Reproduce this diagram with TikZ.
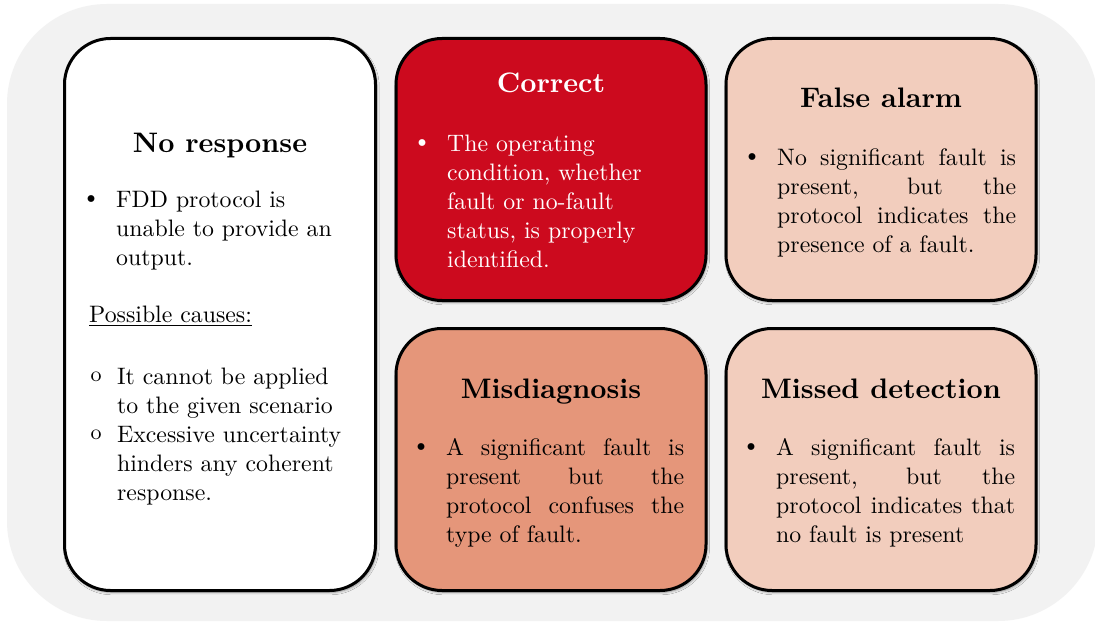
\documentclass[tikz,border=0pt]{standalone}
\usetikzlibrary{shadows.blur}

\definecolor{bgGray}{HTML}{F2F2F2}
\definecolor{okRed}{HTML}{CC0A1E}
\definecolor{midSalmon}{HTML}{E5967A}
\definecolor{paleSalmon}{HTML}{F2CDBD}

% text is set at 10pt design size and enlarged as a whole
\newcommand\bodyscale{2.38}
\newcommand\headscale{2.82}
% list markers, centred on the start of their box
\newcommand\dotbul{\makebox[0pt]{\raisebox{1pt}{\fontsize{10}{10}\selectfont\textbullet}}}
\newcommand\ringbul{\makebox[0pt]{\raisebox{1pt}{\fontsize{9}{9}\selectfont o}}}
% a fully justified line of the given width
\newcommand\jline[2]{\makebox[#1][s]{#2}}
% marker, then a hanging block of lines, all enlarged
\newcommand\entry[4]{\scalebox{\bodyscale}{\makebox[#1][l]{#2}\parbox[t]{#3}{#4}}}
\newcommand\plain[1]{\scalebox{\bodyscale}{#1}}
\newcommand\heading[1]{\scalebox{\headscale}{#1}}

\tikzset{
  card/.style={draw=black, line width=3pt, rounded corners=46pt,
    minimum width=310pt, minimum height=262pt, inner sep=0pt,
    blur shadow={shadow xshift=1.2pt, shadow yshift=-1.8pt,
      shadow blur radius=2.5pt, shadow opacity=45}},
  head/.style={anchor=base, inner sep=0pt, font=\fontsize{10}{12}\selectfont\bfseries},
  body/.style={anchor=base west, inner sep=0pt, font=\fontsize{10}{12.2}\selectfont},
}

\begin{document}
\begin{tikzpicture}[x=1pt, y=-1pt]
  \useasboundingbox (0,0) rectangle (1095,623);
  \fill[white] (0,0) rectangle (1095,623);
  \fill[bgGray, rounded corners=100pt] (7,4) rectangle (1098,621);

  % the five outcome cards
  \node[card, fill=white, minimum width=311pt, minimum height=552pt] (noresp) at (220,314.5) {};
  \node[card, fill=okRed] (correct) at (551,169.5) {};
  \node[card, fill=paleSalmon] (falsealarm) at (881,169.5) {};
  \node[card, fill=midSalmon] (misdiag) at (551,459.5) {};
  \node[card, fill=paleSalmon] (missed) at (881,459.5) {};

  % No response
  \node[head] (noresp-h) at (220,153) {\heading{No response}};
  \node[body] (noresp-a) at (91,207) {\entry{10.5pt}{\dotbul}{96pt}{%
    FDD protocol is\\ unable to provide an\\ output.}};
  \node[body] (noresp-c) at (89,322) {\plain{\underline{Possible causes:}}};
  \node[body] (noresp-d) at (96,384) {\entry{8.8pt}{\ringbul}{96pt}{%
    It cannot be applied\\ to the given scenario}};
  \node[body] (noresp-e) at (96,442) {\entry{8.8pt}{\ringbul}{96pt}{%
    Excessive uncertainty\\ hinders any coherent\\ response.}};

  % Correct
  \node[head, text=white] (correct-h) at (551,93) {\heading{Correct}};
  \node[body, text=white] (correct-a) at (422,151) {\entry{10.5pt}{\dotbul}{100pt}{%
    The operating\\ condition, whether\\ fault or no-fault\\ status, is properly\\ identified.}};

  % False alarm
  \node[head] (falsealarm-h) at (881,108) {\heading{False alarm}};
  \node[body] (falsealarm-a) at (752,165) {\entry{10.5pt}{\dotbul}{100.4pt}{%
    \jline{100.4pt}{No significant fault is}\\
    \jline{100.4pt}{present, but the}\\
    \jline{100.4pt}{protocol indicates the}\\
    presence of a fault.}};

  % Misdiagnosis
  \node[head] (misdiag-h) at (551,398) {\heading{Misdiagnosis}};
  \node[body] (misdiag-a) at (421,455) {\entry{10.5pt}{\dotbul}{100pt}{%
    \jline{100pt}{A significant fault is}\\
    \jline{100pt}{present but the}\\
    \jline{100pt}{protocol confuses the}\\
    type of fault.}};

  % Missed detection
  \node[head] (missed-h) at (881,398) {\heading{Missed detection}};
  \node[body] (missed-a) at (751,455) {\entry{10.5pt}{\dotbul}{100.4pt}{%
    \jline{100.4pt}{A significant fault is}\\
    \jline{100.4pt}{present, but the}\\
    \jline{100.4pt}{protocol indicates that}\\
    no fault is present}};
\end{tikzpicture}
\end{document}
